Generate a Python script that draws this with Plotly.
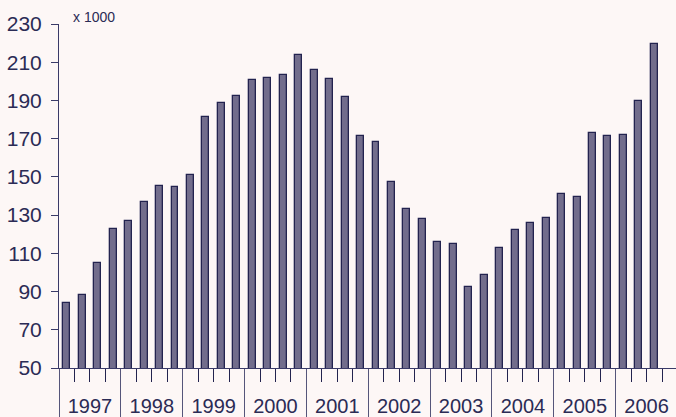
import plotly.graph_objects as go

years = ["1997", "1998", "1999", "2000", "2001", "2002", "2003", "2004", "2005", "2006"]
values = [84, 88, 105, 122.5,
          127, 137, 145, 144.5,
          151, 181.5, 188.5, 192.3,
          200.6, 201.8, 203.3, 213.6,
          205.9, 201.1, 191.6, 171.6,
          168, 147.2, 133.2, 127.9,
          115.9, 114.9, 92.3, 98.7,
          113, 122.2, 126, 128.6,
          141, 139.6, 173.1, 171.2,
          171.8, 189.7, 219.7]
y_ticks = [50, 70, 90, 110, 130, 150, 170, 190, 210, 230]

n = len(values)
x_pos = list(range(n))
year_centers = [1.5 + 4 * i for i in range(len(years))]
year_bounds = [-0.5 + 4 * i for i in range(len(years))]
quarter_bounds = [-0.5 + i for i in range(n + 1)]

text_col = "#2b2b55"
line_col = "#3a3a68"

fig = go.Figure()
fig.add_trace(go.Bar(
    x=x_pos, y=values, width=0.45,
    marker=dict(color="#726d8c", line=dict(color="#23234f", width=1.3)),
    hoverinfo="skip", showlegend=False,
))
fig.add_trace(go.Scatter(x=[None], y=[None], xaxis="x2", showlegend=False, hoverinfo="skip"))

fig.update_layout(
    width=676, height=417,
    margin=dict(l=59, r=0, t=24, b=47),
    paper_bgcolor="#fdf7f6",
    plot_bgcolor="rgba(0,0,0,0)",
    font=dict(family="Liberation Sans, Arial, sans-serif", color=text_col, size=20),
    bargap=0,
    xaxis=dict(
        range=[-0.5, 39.4], showgrid=False, zeroline=False,
        showline=True, linecolor=line_col, linewidth=1,
        tickmode="array", tickvals=year_centers, ticktext=years,
        ticks="outside", ticklen=20, tickcolor="rgba(0,0,0,0)",
        tickfont=dict(size=20, color=text_col),
        minor=dict(tickmode="array", tickvals=quarter_bounds, ticks="outside",
                   ticklen=13, tickcolor="#23234f", tickwidth=1, showgrid=False),
    ),
    xaxis2=dict(
        overlaying="x", matches="x", anchor="y", side="bottom",
        range=[-0.5, 39.4], showgrid=False, zeroline=False, showline=False,
        tickmode="array", tickvals=year_bounds, ticktext=["" for _ in year_bounds],
        ticks="outside", ticklen=48, tickcolor="#55557a", tickwidth=1,
    ),
    yaxis=dict(
        range=[50, 230], showgrid=False, zeroline=False,
        showline=True, linecolor=line_col, linewidth=1,
        tickmode="array", tickvals=y_ticks,
        ticks="outside", ticklen=7, tickcolor=line_col,
        tickfont=dict(size=21, color=text_col),
        ticklabelstandoff=5,
    ),
    annotations=[dict(
        text="x 1000", xref="paper", yref="paper", x=0.02, y=1.0,
        xanchor="left", yanchor="bottom", showarrow=False,
        font=dict(size=14, color=text_col), yshift=-3,
    )],
)

fig.write_html("out.html")
